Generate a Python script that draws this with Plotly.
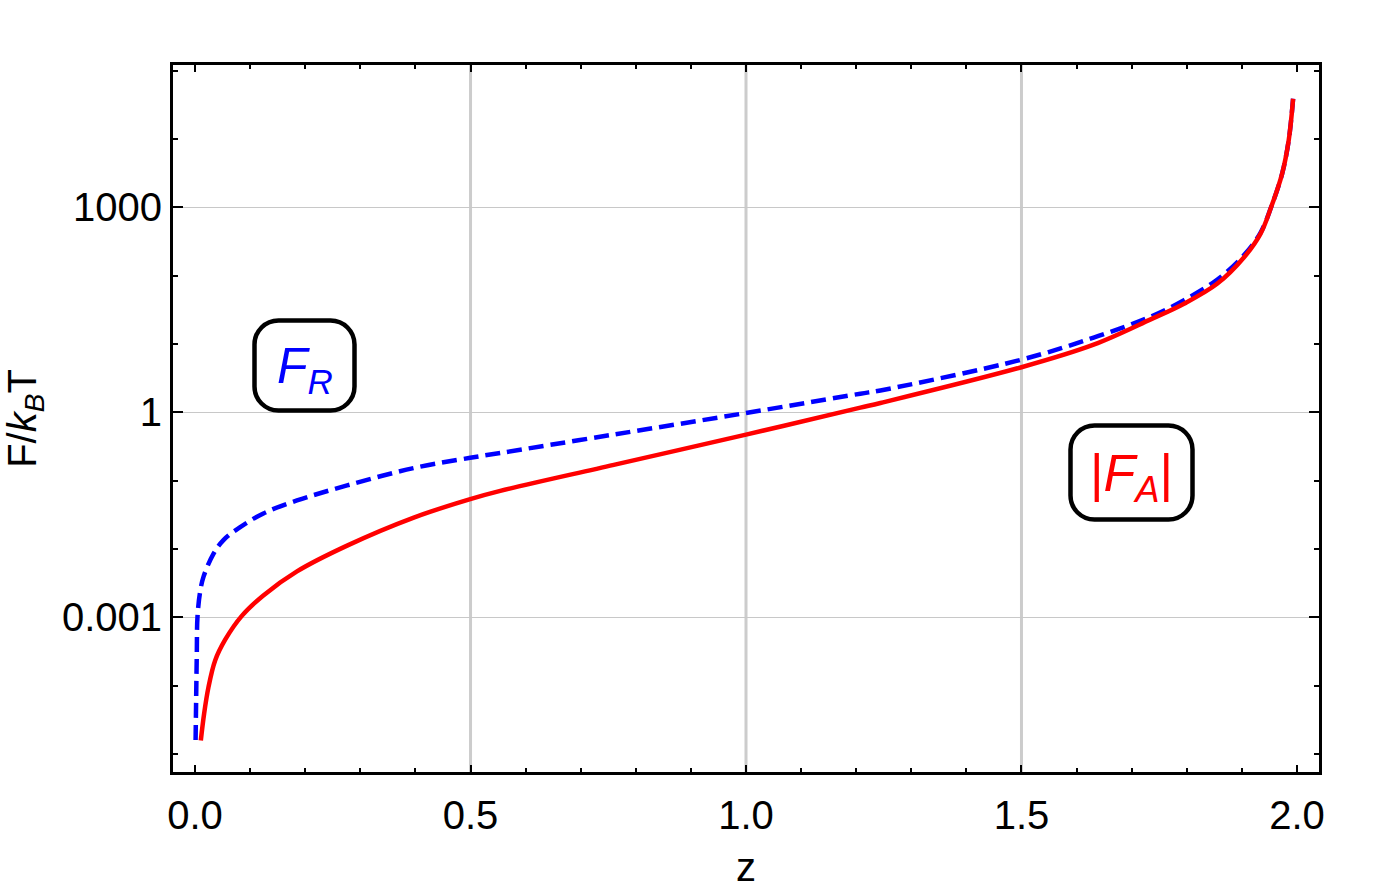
import plotly.graph_objects as go

# ---- data ----
z_R = [0.001, 0.0032, 0.0044, 0.009, 0.0153, 0.0334, 0.0516, 0.082, 0.124, 0.185, 0.276,
       0.397, 0.4995, 0.554, 0.76, 1.0, 1.2076, 1.244, 1.5, 1.631, 1.7345, 1.795, 1.855, 1.904,
       1.934, 1.953, 1.973, 1.985, 1.993]
F_R = [1.6e-5, 2.95e-4, 1.0e-3, 2.3e-3, 3.9e-3, 8.5e-3, 0.0135, 0.0209, 0.0331, 0.0513, 0.0851,
       0.153, 0.216, 0.254, 0.473, 0.977, 1.875, 2.09, 5.9, 12.4, 25.1, 43.7, 87.1, 200,
       427, 1000, 3090, 9550, 38900]

z_A = [0.0105, 0.0165, 0.0244, 0.0365, 0.0547, 0.0849, 0.124, 0.185, 0.276, 0.397, 0.4995, 0.554,
       0.76, 1.0, 1.2076, 1.244, 1.5, 1.631, 1.7345, 1.795, 1.855, 1.904, 1.934, 1.953, 1.973,
       1.985, 1.993]
F_A = [1.58e-5, 3.9e-5, 9.5e-5, 2.34e-4, 4.7e-4, 1.05e-3, 2.09e-3, 4.7e-3, 0.0112, 0.0288,
       0.0537, 0.0708, 0.17, 0.472, 1.17, 1.37, 4.57, 9.77, 22.9, 38.9, 75.9, 186, 412, 1000,
       3090, 9550, 38900]

x_ticks = [0.0, 0.5, 1.0, 1.5, 2.0]
x_tick_text = ["0.0", "0.5", "1.0", "1.5", "2.0"]
x_minor = [round(0.1 * i, 1) for i in range(0, 21)]
x_grid = [0.5, 1.0, 1.5]
y_ticks = [0.001, 1, 1000]
y_tick_text = ["0.001", "1", "1000"]
y_minor = [10.0 ** k for k in range(-5, 6)]

FONT = "Arial, Liberation Sans, sans-serif"

fig = go.Figure()
fig.add_trace(go.Scatter(x=z_R, y=F_R, mode="lines", name="F_R",
                         line=dict(color="#0000ff", width=4.5, dash="15px,7px", shape="spline", smoothing=1.0)))
fig.add_trace(go.Scatter(x=z_A, y=F_A, mode="lines", name="|F_A|",
                         line=dict(color="#ff0000", width=4.5, shape="spline", smoothing=1.0)))

for gx in x_grid:
    fig.add_shape(type="line", xref="x", yref="paper", x0=gx, x1=gx, y0=0, y1=1,
                  line=dict(color="#cccccc", width=3), layer="below")


def rounded_box(w, h, r):
    k = 0.552 * r
    return (f"M {-w + r},{-h} L {w - r},{-h} C {w - r + k},{-h} {w},{-h + r - k} {w},{-h + r} "
            f"L {w},{h - r} C {w},{h - r + k} {w - r + k},{h} {w - r},{h} "
            f"L {-w + r},{h} C {-w + r - k},{h} {-w},{h - r + k} {-w},{h - r} "
            f"L {-w},{-h + r} C {-w},{-h + r - k} {-w + r - k},{-h} {-w + r},{-h} Z")


L, R, T, B = 173, 70, 65, 120
W, H = 1389, 892
pw, ph = W - L - R, H - T - B


def px2paper(px, py):
    return (px - L) / pw, (H - B - py) / ph


boxes = [
    dict(center=(304.5, 365.5), size=(100, 90), text="<i>F</i><sub><i>R</i></sub>", color="#0000ff", fs=50),
    dict(center=(1131.5, 472.5), size=(122, 94), text="|<i>F</i><sub><i>A</i></sub>|", color="#ff0000", fs=52),
]
for b in boxes:
    xa, ya = px2paper(*b["center"])
    fig.add_shape(type="path", xref="paper", yref="paper", xsizemode="pixel", ysizemode="pixel",
                  xanchor=xa, yanchor=ya, path=rounded_box(b["size"][0] / 2, b["size"][1] / 2, 24),
                  line=dict(color="black", width=4.5), fillcolor="white")
    fig.add_annotation(xref="paper", yref="paper", x=xa, y=ya, text=b["text"], showarrow=False,
                       xanchor="center", yanchor="middle", yshift=-4,
                       font=dict(family=FONT, size=b["fs"], color=b["color"]))

# x-axis title placed as annotation (close to the bottom edge as in the reference)
zx, zy = px2paper(746, 867)
fig.add_annotation(xref="paper", yref="paper", x=zx, y=zy, text="z", showarrow=False,
                   xanchor="center", yanchor="middle",
                   font=dict(family=FONT, size=40, color="black"))

fig.update_layout(
    width=W, height=H,
    margin=dict(l=L, r=R, t=T, b=B, autoexpand=False),
    plot_bgcolor="white", paper_bgcolor="white",
    showlegend=False,
    font=dict(family=FONT, size=40, color="black"),
)
fig.update_xaxes(
    range=[-0.04, 2.04], tickmode="array", tickvals=x_ticks, ticktext=x_tick_text,
    showgrid=False, zeroline=False, automargin=False,
    showline=True, linecolor="black", linewidth=3, mirror="ticks",
    ticks="inside", ticklen=7, tickwidth=2, tickcolor="black",
    minor=dict(tickmode="array", tickvals=x_minor, ticks="inside", ticklen=4, tickwidth=1.5,
               tickcolor="black", showgrid=False),
    ticklabelstandoff=6,
    tickfont=dict(family=FONT, size=40, color="black"),
)
fig.update_yaxes(
    type="log", range=[-5.264, 5.083], tickmode="array", tickvals=y_ticks, ticktext=y_tick_text,
    showgrid=True, gridcolor="#c8c8c8", gridwidth=1, zeroline=False, automargin=False,
    showline=True, linecolor="black", linewidth=3, mirror="ticks",
    ticks="inside", ticklen=10, tickwidth=1.5, tickcolor="black",
    minor=dict(tickmode="array", tickvals=y_minor, ticks="inside", ticklen=5, tickwidth=1.5,
               tickcolor="black", showgrid=False),
    ticklabelstandoff=0,
    tickfont=dict(family=FONT, size=40, color="black"),
    title=dict(text="F/<i>k</i><sub><i>B</i></sub>T", font=dict(family=FONT, size=40, color="black"),
               standoff=17),
)

fig.write_html("out.html", config={"displayModeBar": False},
               post_script="document.body.style.margin='0';")
